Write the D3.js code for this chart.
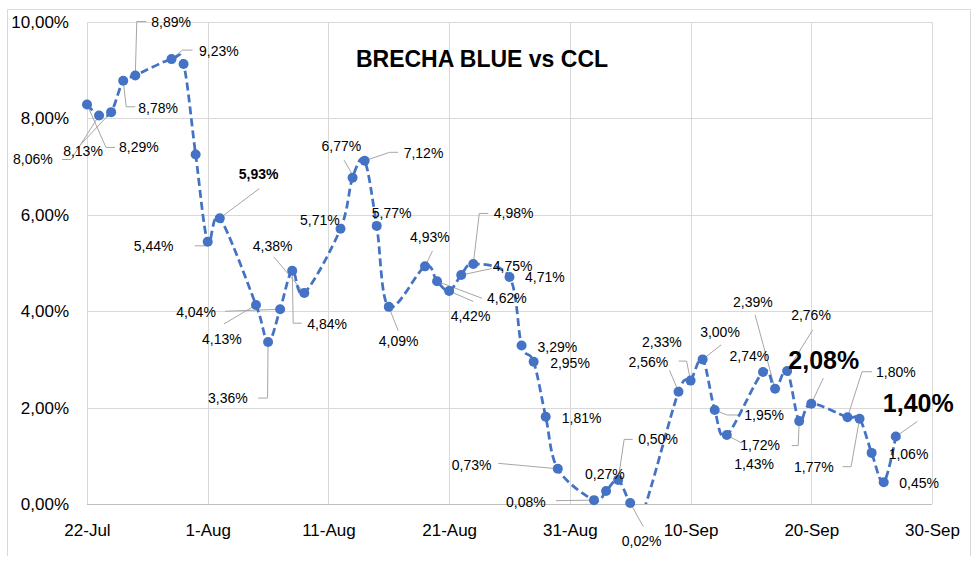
<!DOCTYPE html>
<html>
<head>
<meta charset="utf-8">
<script src="https://cdn.jsdelivr.net/npm/d3@7"></script>
<style>
  body { margin: 0; background: #fff; }
  svg { font-family: "Liberation Sans", Arial, sans-serif; }
</style>
</head>
<body>
<svg id="chart"></svg>
<script>
// brecha diaria blue vs CCL (en %)
const dates = [
  "2024-07-22", "2024-07-23", "2024-07-24", "2024-07-25", "2024-07-26",
  "2024-07-29", "2024-07-30", "2024-07-31", "2024-08-01", "2024-08-02",
  "2024-08-05", "2024-08-06", "2024-08-07", "2024-08-08", "2024-08-09",
  "2024-08-12", "2024-08-13", "2024-08-14", "2024-08-15", "2024-08-16",
  "2024-08-19", "2024-08-20", "2024-08-21", "2024-08-22", "2024-08-23",
  "2024-08-26", "2024-08-27", "2024-08-28", "2024-08-29", "2024-08-30",
  "2024-09-02", "2024-09-03", "2024-09-04", "2024-09-05", "2024-09-06",
  "2024-09-09", "2024-09-10", "2024-09-11", "2024-09-12", "2024-09-13",
  "2024-09-16", "2024-09-17", "2024-09-18", "2024-09-19", "2024-09-20",
  "2024-09-23", "2024-09-24", "2024-09-25", "2024-09-26", "2024-09-27"
];
const values = [
  8.29, 8.06, 8.13, 8.78, 8.89,
  9.23, 9.13, 7.25, 5.44, 5.93,
  4.13, 3.36, 4.04, 4.84, 4.38,
  5.71, 6.77, 7.12, 5.77, 4.09,
  4.93, 4.62, 4.42, 4.75, 4.98,
  4.71, 3.29, 2.95, 1.81, 0.73,
  0.08, 0.27, 0.50, 0.02, -0.20,
  2.33, 2.56, 3.00, 1.95, 1.43,
  2.74, 2.39, 2.76, 1.72, 2.08,
  1.80, 1.77, 1.06, 0.45, 1.40
];
const tickDates = ["2024-07-22", "2024-08-01", "2024-08-11", "2024-08-21", "2024-08-31", "2024-09-10", "2024-09-20", "2024-09-30"];
const yTicks = [0, 2, 4, 6, 8, 10];
const title = "BRECHA BLUE vs CCL";
const boldLabels = ["2024-08-02"];
const bigLabels = ["2024-09-20", "2024-09-27"];
const noLabel = ["2024-07-30", "2024-07-31", "2024-09-06"];

// donde va cada etiqueta respecto de su punto: [dx, dy, linea guía]
const labelPlace = {
  "2024-07-22": [32, 43, [[0, 0], [19, 43], [28, 43]]],
  "2024-07-23": [-86, 44, [[0, 0], [-28, 44], [-37, 44]]],
  "2024-07-24": [-48, 39, [[0, 0], [-31, 33]]],
  "2024-07-25": [15, 27, [[0, 0], [3, 26], [12, 26]]],
  "2024-07-26": [16, -53, [[0, 0], [1.5, -54], [11, -54]]],
  "2024-07-29": [27.5, -8.5, [[0, 0], [11, -9], [21, -9]]],
  "2024-08-01": [-74, 4, [[-1, 4], [-13, 4]]],
  "2024-08-02": [19, -44, [[0, 0], [39.5, -29.5]]],
  "2024-08-05": [-54, 34, [[0, 0], [-32, 19]]],
  "2024-08-06": [-60, 56, [[0, 0], [-0.5, 56], [-10, 56]]],
  "2024-08-07": [-104, 3, [[0, 0], [-55, 2]]],
  "2024-08-08": [15, 53.5, [[0, 0], [1, 52.5], [9.5, 52.5]]],
  "2024-08-09": [-51.5, -47, [[0, 0], [-30.5, -36]]],
  "2024-08-12": [-40.5, -9, null],
  "2024-08-13": [-31, -31.5, [[-1, -4.5], [-8.5, -17.5]]],
  "2024-08-14": [39, -8, [[0, 0], [25, -8.5], [33.5, -8.5]]],
  "2024-08-15": [-5, -13, null],
  "2024-08-16": [-10, 34, [[0, 0], [9.5, 24]]],
  "2024-08-19": [-15, -29, [[1.5, -3], [7.5, -15.5]]],
  "2024-08-20": [50, 17, [[0, 0], [45, 17]]],
  "2024-08-21": [1.5, 25.5, [[0, 0], [24, 10.5]]],
  "2024-08-22": [31.5, -8.5, [[0, 0], [30.5, -6.5]]],
  "2024-08-23": [20.5, -50.5, [[0, 0], [6, -50.5], [15, -50.5]]],
  "2024-08-26": [15.5, 0.5, null],
  "2024-08-27": [16, 1.5, null],
  "2024-08-28": [16.5, 1, null],
  "2024-08-29": [16, 1, null],
  "2024-08-30": [-106, -4, [[0, 0], [-59.5, -5.5]]],
  "2024-09-02": [-88, 2, [[0, 0], [-38, 0.5]]],
  "2024-09-03": [-21, -16.5, null],
  "2024-09-04": [20, -40.5, [[0, 0], [6, -40.5], [14.5, -40.5]]],
  "2024-09-05": [-8.5, 38.5, [[0, 0], [13, 23.5]]],
  "2024-09-09": [-36.5, -49.5, [[0, 0], [-9, -21.5]]],
  "2024-09-10": [-62, -19, [[0, 0], [-4, -19.5], [-12, -19.5]]],
  "2024-09-11": [-2.5, -27, [[0, 0], [18.5, -14.5]]],
  "2024-09-12": [29.5, 5.5, [[0, 0], [12.5, 5], [25.5, 5]]],
  "2024-09-13": [7.5, 29, [[0, 0], [15, 8]]],
  "2024-09-16": [-33.5, -16, null],
  "2024-09-17": [-42, -87, [[0, 0], [-20, -74]]],
  "2024-09-18": [4, -55.5, [[0, 0], [25.5, -41]]],
  "2024-09-19": [-59, 24.5, [[0, 0], [-1, 24.5], [-7.5, 24.5]]],
  "2024-09-20": [-23, -43, [[0, 0], [12, -25.5]]],
  "2024-09-23": [28.5, -45.5, [[0, 0], [14.5, -45.5], [24.5, -45.5]]],
  "2024-09-24": [-65.5, 48, [[0, 0], [-8.5, 48], [-17, 48]]],
  "2024-09-25": [17, 1, null],
  "2024-09-26": [15.5, 0.5, null],
  "2024-09-27": [-13, -33, [[0, 0], [21.5, -15]]]
};

const parseDate = d3.utcParse("%Y-%m-%d");
const data = dates.map((d, i) => ({ key: d, date: parseDate(d), value: values[i] }));

const W = 980, H = 574;
const margin = { top: 22, right: 48, bottom: 70, left: 87 };
const width = W - margin.left - margin.right;
const height = H - margin.top - margin.bottom;

const svg = d3.select("#chart").attr("width", W).attr("height", H);

// borde del gráfico
svg.append("path")
  .attr("d", "M7.5,556V9.5H970.5V556")
  .attr("fill", "none")
  .attr("stroke", "#d9d9d9")
  .attr("stroke-width", 1);

const g = svg.append("g").attr("transform", `translate(${margin.left},${margin.top})`);

const x = d3.scaleUtc()
  .domain([parseDate(tickDates[0]), parseDate(tickDates[tickDates.length - 1])])
  .range([0, width]);

const y = d3.scaleLinear()
  .domain([0, 10])
  .range([height, 0]);

const fmt = v => d3.format(".2f")(v).replace(".", ",") + "%";

// grilla
g.append("g")
  .selectAll("line.h")
  .data(yTicks)
  .join("line")
  .attr("x1", 0).attr("x2", width)
  .attr("y1", d => Math.round(y(d)) + 0.5).attr("y2", d => Math.round(y(d)) + 0.5)
  .attr("stroke", d => d === 0 ? "#bfbfbf" : "#d9d9d9");

g.append("g")
  .selectAll("line.v")
  .data(tickDates.map(parseDate))
  .join("line")
  .attr("x1", d => Math.round(x(d)) + 0.5).attr("x2", d => Math.round(x(d)) + 0.5)
  .attr("y1", 0).attr("y2", height)
  .attr("stroke", "#d9d9d9");

// ejes
const yAxis = g.append("g")
  .call(d3.axisLeft(y).tickValues(yTicks).tickSize(0).tickPadding(18).tickFormat(d => fmt(d)));
yAxis.select(".domain").remove();
yAxis.selectAll("text").attr("font-size", 17).attr("fill", "#000").attr("font-family", null);

const xAxis = g.append("g")
  .attr("transform", `translate(0,${height})`)
  .call(d3.axisBottom(x).tickValues(tickDates.map(parseDate)).tickSize(0).tickPadding(20)
    .tickFormat(d3.utcFormat("%-d-%b")));
xAxis.select(".domain").remove();
xAxis.selectAll("text").attr("font-size", 17).attr("fill", "#000").attr("font-family", null);

// título
svg.append("text")
  .attr("x", 482)
  .attr("y", 67)
  .attr("text-anchor", "middle")
  .attr("font-size", 23)
  .attr("font-weight", "bold")
  .text(title);

// líneas guía de las etiquetas
const px = d => x(d.date), py = d => y(d.value);

g.append("g")
  .selectAll("polyline")
  .data(data.filter(d => labelPlace[d.key] && labelPlace[d.key][2]))
  .join("polyline")
  .attr("points", d => labelPlace[d.key][2].map(p => [px(d) + p[0], py(d) + p[1]].join(",")).join(" "))
  .attr("fill", "none")
  .attr("stroke", "#a6a6a6")
  .attr("stroke-width", 1);

// serie
g.append("clipPath").attr("id", "plotClip")
  .append("rect").attr("x", -20).attr("y", -20).attr("width", width + 40).attr("height", height + 20);

const line = d3.line()
  .x(px)
  .y(py)
  .curve(d3.curveCardinal.tension(0));

g.append("path")
  .datum(data)
  .attr("clip-path", "url(#plotClip)")
  .attr("d", line)
  .attr("fill", "none")
  .attr("stroke", "#4472c4")
  .attr("stroke-width", 2.75)
  .attr("stroke-dasharray", "8,4");

g.append("g")
  .selectAll("circle")
  .data(data.filter(d => d.value >= 0))
  .join("circle")
  .attr("cx", px)
  .attr("cy", py)
  .attr("r", 5)
  .attr("fill", "#4472c4");

// etiquetas
g.append("g")
  .selectAll("text")
  .data(data.filter(d => !noLabel.includes(d.key)))
  .join("text")
  .attr("x", d => px(d) + labelPlace[d.key][0])
  .attr("y", d => py(d) + labelPlace[d.key][1])
  .attr("dy", "0.35em")
  .attr("font-size", d => bigLabels.includes(d.key) ? 25 : 14)
  .attr("font-weight", d => bigLabels.includes(d.key) || boldLabels.includes(d.key) ? "bold" : "normal")
  .attr("fill", "#000")
  .text(d => fmt(d.value));
</script>
</body>
</html>
